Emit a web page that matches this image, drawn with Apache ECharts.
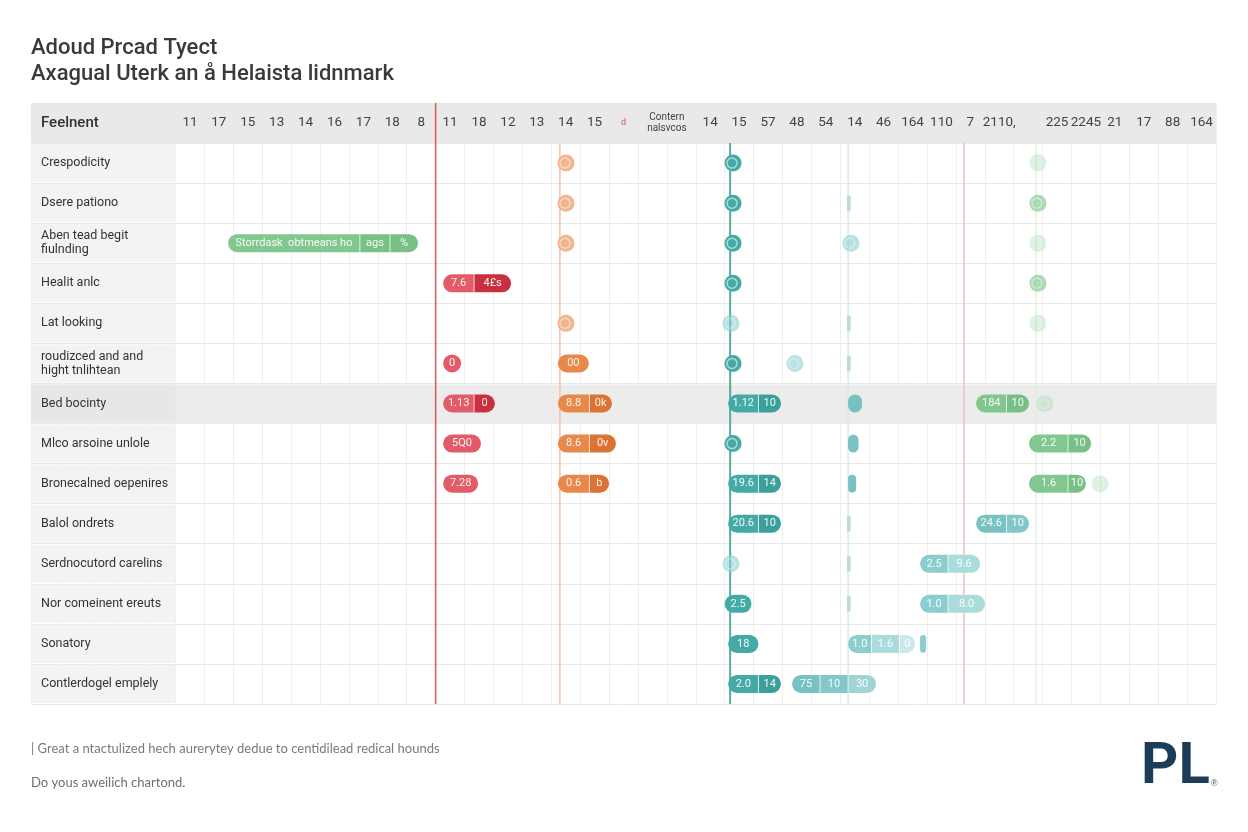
<!DOCTYPE html>
<html>
<head>
<meta charset="utf-8">
<title>Timeline chart</title>
<script src="https://cdn.jsdelivr.net/npm/echarts@6/dist/echarts.min.js"></script>
<style>
  html, body { margin: 0; padding: 0; background: #fff; }
  #main { width: 1248px; height: 832px; }
</style>
</head>
<body>
<div id="main"></div>
<script>
  // header row + row labels
  var headerTitle = 'Feelnent'
  var rowNames = [
    'Crespodicity', 'Dsere pationo', 'Aben tead begit\nfiulnding', 'Healit anlc',
    'Lat looking', 'roudizced and and\nhight tnlihtean', 'Bed bocinty', 'Mlco arsoine unlole',
    'Bronecalned oepenires', 'Balol ondrets', 'Serdnocutord carelins', 'Nor comeinent ereuts',
    'Sonatory', 'Contlerdogel emplely'
  ]
  var highlightRow = 7
  // one label per column of the time axis (0..35)
  var headerLabels = [
    '11', '17', '15', '13', '14', '16', '17', '18', '8', '11', '18', '12', '13', '14', '15', 'd',
    '', 'Contern\nnalsvcos', '14', '15', '57', '48', '54', '14', '46', '164', '110', '7', '2110,',
    '', '225', '2245', '21', '17', '88', '164'
  ]

  // bars: [row, segment edges on the time axis, segment labels]
  var redBars = [
    [4, [9.26, 10.33, 11.61], ['7.6', '4£s']],
    [6, [9.26, 9.88], ['0']],
    [7, [9.26, 10.33, 11.05], ['1.13', '0']],
    [8, [9.26, 10.57], ['5Q0']],
    [9, [9.26, 10.47], ['7.28']]
  ]
  var orangeBars = [
    [6, [13.23, 14.3], ['00']],
    [7, [13.23, 14.32, 15.1], ['8.8', '0k']],
    [8, [13.23, 14.32, 15.24], ['8.6', '0v']],
    [9, [13.23, 14.32, 15.0], ['0.6', 'b']]
  ]
  var greenBars = [
    [3, [1.82, 6.38, 7.42, 8.39], ['Storrdask  obtmeans ho', 'ags', '%']],
    [7, [27.7, 28.75, 29.53], ['184', '10']],
    [8, [29.53, 30.88, 31.68], ['2.2', '10']],
    [9, [29.53, 30.88, 31.5], ['1.6', '10']]
  ]
  var tealBars = [
    [7, [19.12, 20.17, 20.95], ['1.12', '10']],
    [9, [19.12, 20.17, 20.95], ['19.6', '14']],
    [10, [19.12, 20.17, 20.95], ['20.6', '10']],
    [12, [19.0, 19.93], ['2.5']],
    [13, [19.12, 20.17], ['18']],
    [14, [19.12, 20.17, 20.95], ['2.0', '14']]
  ]
  var tealSoftBars = [
    [7, [23.27, 23.75], ['']],
    [8, [23.27, 23.63], ['']],
    [9, [23.27, 23.55], ['']],
    [10, [27.7, 28.75, 29.53], ['24.6', '10']],
    [14, [21.33, 22.3, 23.27, 24.24], ['75', '10', '30']]
  ]
  var tealPaleBars = [
    [11, [25.76, 26.73, 27.84], ['2.5', '9.6']],
    [12, [25.76, 26.73, 28.01], ['1.0', '8.0']],
    [13, [23.27, 24.08, 25.05, 25.59], ['1.0', '1.6', '0']],
    [13, [25.76, 25.97], ['']]
  ]

  // single milestones: [row, time]
  var orangeDots = [[1, 13.51], [2, 13.51], [3, 13.51], [5, 13.51]]
  var tealDots = [[1, 19.29], [2, 19.29], [3, 19.29], [4, 19.29], [6, 19.29], [8, 19.29]]
  var tealPaleDots = [[5, 19.22], [11, 19.22], [6, 21.43], [3, 23.37]]
  var greenDots = [[2, 29.84], [4, 29.84]]
  var greenPaleDots = [[1, 29.84], [3, 29.84], [5, 29.84], [7, 30.08], [9, 31.99]]
  var tealTicks = [2, 5, 6, 10, 11, 12]
  var tickTime = 23.3

  // vertical reference lines on the time axis
  var refLines = [9.0, 13.3, 19.19, 23.27, 27.28, 29.77]
  var refLineStyles = [
    { stroke: '#d65a57', lineWidth: 1.5, fromRow: 0 },
    { stroke: '#f2c3ab', lineWidth: 1.5, fromRow: 1 },
    { stroke: '#52aba7', lineWidth: 2, fromRow: 1 },
    { stroke: '#d3eaea', lineWidth: 1.5, fromRow: 1 },
    { stroke: '#f1bfc5', lineWidth: 1.5, fromRow: 1 },
    { stroke: '#d9eedc', lineWidth: 1.2, fromRow: 1 }
  ]

  var categories = [headerTitle].concat(rowNames)
  var FONT = 'Roboto'
  var BAR_H = 18

  function barSeries (name, list, colors, opacity, z) {
    return {
      type: 'custom',
      name: name,
      z: z,
      data: list.map(function (b) { return [b[1][0], b[0], b[1][b[1].length - 1]] }),
      encode: { x: [0, 2], y: 1 },
      renderItem: function (params, api) {
        var b = list[params.dataIndex]
        var edges = b[1]
        var labels = b[2]
        var y = api.coord([0, b[0]])[1]
        var h = BAR_H
        var r = h / 2
        var xs = edges.map(function (e) { return api.coord([e, b[0]])[0] })
        var n = xs.length - 1
        var kids = []
        for (var i = 0; i < n; i++) {
          var rr = [i === 0 ? r : 0, i === n - 1 ? r : 0, i === n - 1 ? r : 0, i === 0 ? r : 0]
          kids.push({
            type: 'rect',
            shape: { x: xs[i], y: y - h / 2, width: xs[i + 1] - xs[i], height: h, r: rr },
            style: { fill: colors[Math.min(i, colors.length - 1)], opacity: opacity }
          })
          if (i > 0) {
            kids.push({
              type: 'line',
              shape: { x1: xs[i], y1: y - h / 2, x2: xs[i], y2: y + h / 2 },
              style: { stroke: '#fff', lineWidth: 1, opacity: 0.75 }
            })
          }
          if (labels[i]) {
            kids.push({
              type: 'text',
              style: {
                text: labels[i], x: (xs[i] + xs[i + 1]) / 2, y: y,
                align: 'center', verticalAlign: 'middle',
                fill: '#fff', opacity: 0.92, font: '11px ' + FONT
              }
            })
          }
        }
        return { type: 'group', children: kids }
      }
    }
  }

  function dotSeries (name, list, color, opacity, z) {
    return {
      type: 'custom',
      name: name,
      z: z,
      data: list.map(function (d) { return [d[1], d[0]] }),
      encode: { x: 0, y: 1 },
      renderItem: function (params, api) {
        var p = api.coord([api.value(0), api.value(1)])
        return {
          type: 'group',
          children: [
            { type: 'circle', shape: { cx: p[0], cy: p[1], r: 8.5 }, style: { fill: color, opacity: opacity } },
            { type: 'circle', shape: { cx: p[0] - 1, cy: p[1], r: 5 },
              style: { fill: 'none', stroke: '#fff', lineWidth: 1.5, opacity: 0.55 * opacity } }
          ]
        }
      }
    }
  }

  var option = {
    animation: false,
    backgroundColor: '#ffffff',
    title: [
      {
        text: 'Adoud Prcad Tyect\nAxagual Uterk an å Helaista lidnmark',
        left: 31, top: 35, padding: 0,
        textStyle: { fontSize: 22, lineHeight: 26, color: '#3a3a3a', fontWeight: 500, fontFamily: FONT }
      },
      {
        text: '| Great a ntactulized hech aurerytey dedue to centidilead redical hounds',
        left: 31, top: 742, padding: 0,
        textStyle: { fontSize: 13, color: '#7a7a7a', fontWeight: 'normal', fontFamily: 'Lato' }
      },
      {
        text: 'Do yous aweilich chartond.',
        left: 31, top: 776, padding: 0,
        textStyle: { fontSize: 13, color: '#6f6f6f', fontWeight: 'normal', fontFamily: 'Lato' }
      },
      {
        text: 'PL',
        left: 1141, top: 739, padding: 0,
        textStyle: { fontSize: 58, color: '#1c3d5a', fontWeight: 'bold', fontFamily: FONT }
      },
      {
        text: '®',
        left: 1211, top: 779, padding: 0,
        textStyle: { fontSize: 9, color: '#555', fontWeight: 'normal' }
      }
    ],
    grid: { left: 31, right: 32, top: 103, bottom: 128 },
    xAxis: {
      type: 'value',
      min: -5,
      max: 36,
      interval: 1,
      axisLabel: { show: false },
      axisLine: { show: false },
      axisTick: { show: false },
      splitLine: { lineStyle: { color: '#eeeeee', width: 1 } }
    },
    yAxis: {
      type: 'category',
      data: categories,
      inverse: true,
      axisLabel: { show: false },
      axisLine: { show: false },
      axisTick: { show: false },
      splitLine: { show: true, interval: 0, lineStyle: { color: '#e9e9e9', width: 1 } }
    },
    series: [
      {
        // header band, row label column and highlighted row
        type: 'custom',
        name: 'frame',
        z: 1,
        data: categories.map(function (c, i) { return [0, i] }),
        encode: { x: 0, y: 1 },
        renderItem: function (params, api) {
          var i = params.dataIndex
          var c = api.coord([-5, i])
          var xEnd = api.coord([36, i])[0]
          var xCol = api.coord([0, i])[0]
          var band = api.size([0, 1])[1]
          var top = c[1] - band / 2
          var kids = []
          if (i === 0 || i === highlightRow) {
            kids.push({
              type: 'rect',
              shape: { x: c[0], y: top + (i === 0 ? 0 : 1), width: xEnd - c[0], height: band - (i === 0 ? 0 : 1) },
              style: { fill: i === 0 ? '#e9e9e9' : '#ececec' }
            })
          }
          if (i > 0) {
            kids.push({
              type: 'rect',
              shape: { x: c[0], y: top + 1, width: xCol - c[0], height: band - 2 },
              style: { fill: i === highlightRow ? '#e7e7e7' : '#f3f3f3' }
            })
          }
          kids.push({
            type: 'text',
            style: {
              text: categories[i], x: c[0] + 10, y: c[1],
              align: 'left', verticalAlign: 'middle',
              fill: '#333', lineHeight: 14,
              font: i === 0 ? '500 15px ' + FONT : '12.5px ' + FONT
            }
          })
          return { type: 'group', children: kids }
        }
      },
      {
        // column labels in the header band; two-line labels sit on the column edge
        type: 'custom',
        name: 'header',
        z: 2,
        data: headerLabels.map(function (t, i) { return [t.indexOf('\n') >= 0 ? i : i + 0.5, 0] }),
        encode: { x: 0, y: 1 },
        renderItem: function (params, api) {
          var t = headerLabels[params.dataIndex]
          var p = api.coord([api.value(0), 0])
          var small = t.indexOf('\n') >= 0
          return {
            type: 'text',
            style: {
              text: t, x: p[0], y: p[1],
              align: 'center', verticalAlign: 'middle',
              fill: t === 'd' ? '#d9534f' : '#444',
              lineHeight: 11,
              font: (small ? '10px ' : t === 'd' ? '9px ' : '13.5px ') + FONT
            }
          }
        }
      },
      {
        type: 'custom',
        name: 'refLines',
        z: 2,
        data: refLines.map(function (v) { return [v, 0] }),
        encode: { x: 0, y: 1 },
        renderItem: function (params, api) {
          var s = refLineStyles[params.dataIndex]
          var v = api.value(0)
          var band = api.size([0, 1])[1]
          var y0 = api.coord([v, s.fromRow])[1] - band / 2
          var y1 = api.coord([v, categories.length - 1])[1] + band / 2
          var x = api.coord([v, 0])[0]
          return {
            type: 'line',
            shape: { x1: x, y1: y0, x2: x, y2: y1 },
            style: { stroke: s.stroke, lineWidth: s.lineWidth }
          }
        }
      },
      {
        type: 'custom',
        name: 'ticks',
        z: 3,
        data: tealTicks.map(function (r) { return [tickTime, r] }),
        encode: { x: 0, y: 1 },
        renderItem: function (params, api) {
          var p = api.coord([api.value(0), api.value(1)])
          return {
            type: 'rect',
            shape: { x: p[0] - 2, y: p[1] - 8, width: 4, height: 16, r: 2 },
            style: { fill: '#7cc3c1', opacity: 0.45 }
          }
        }
      },
      barSeries('red', redBars, ['#e15c67', '#c9303f'], 1, 4),
      barSeries('orange', orangeBars, ['#e8894b', '#db7433'], 1, 4),
      barSeries('green', greenBars, ['#7cc48a', '#72bd80'], 0.95, 4),
      barSeries('teal', tealBars, ['#45aaa6', '#3b9f9b'], 1, 4),
      barSeries('tealSoft', tealSoftBars, ['#72bfbf', '#7cc4c4', '#9cd3d3'], 0.95, 4),
      barSeries('tealPale', tealPaleBars, ['#86cbcb', '#a6dada', '#c8e8e8'], 0.95, 4),
      dotSeries('orangeDots', orangeDots, '#f2a77c', 0.85, 5),
      dotSeries('tealDots', tealDots, '#45aaa6', 1, 5),
      dotSeries('tealPaleDots', tealPaleDots, '#8ccfcf', 0.6, 5),
      dotSeries('greenDots', greenDots, '#8fcf9a', 0.75, 5),
      dotSeries('greenPaleDots', greenPaleDots, '#9fd6a8', 0.35, 5)
    ]
  }

  var chart = echarts.init(document.getElementById('main'))
  chart.setOption(option)
  window.addEventListener('resize', function () {
    chart.resize()
  })
</script>
</body>
</html>
